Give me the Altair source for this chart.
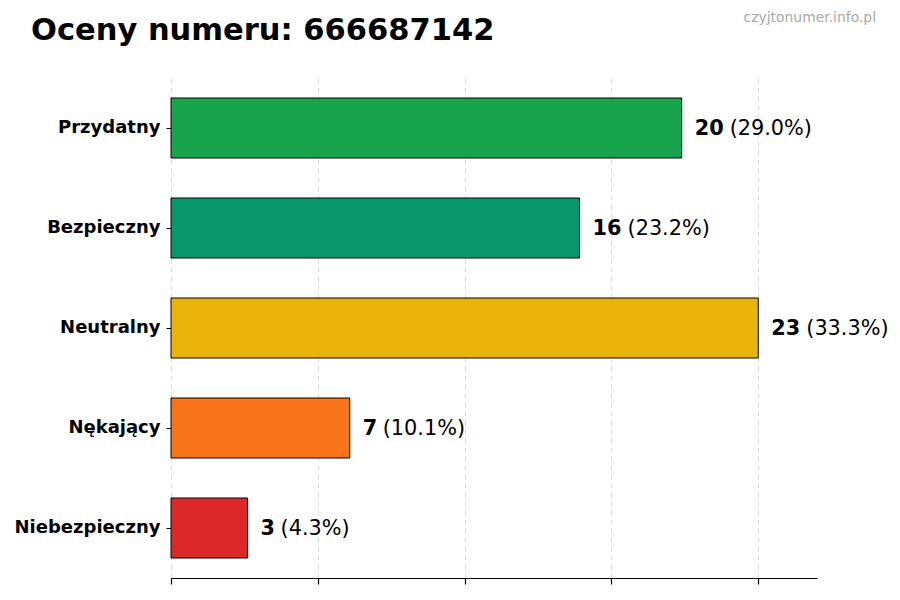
import altair as alt
import pandas as pd

categories = ["Przydatny", "Bezpieczny", "Neutralny", "Nękający", "Niebezpieczny"]
counts = [20, 16, 23, 7, 3]
percents = ["29.0%", "23.2%", "33.3%", "10.1%", "4.3%"]
colors = ["#16a34a", "#059669", "#eab308", "#f97316", "#dc2626"]
x_ticks = [0, 5.75, 11.5, 17.25, 23]
title_text = "Oceny numeru: 666687142"
watermark = "czyjtonumer.info.pl"

df = pd.DataFrame({"cat": categories, "count": counts, "pct": percents})
FONT = "DejaVu Sans"
X_MAX = 25.3
WIDTH = 646
PX_PER_UNIT = WIDTH / X_MAX

y_enc = alt.Y("cat:N", sort=categories,
              scale=alt.Scale(paddingInner=0.4, paddingOuter=0.2),
              axis=alt.Axis(title=None, domain=False, labelFont=FONT, labelFontSize=18,
                            labelFontWeight="bold", labelColor="black", tickColor="black",
                            tickSize=5, labelPadding=6, grid=False))
x_scale = alt.Scale(domain=[0, X_MAX], nice=False, zero=True)

base = alt.Chart(df)

bars = base.mark_bar(stroke="black", strokeWidth=1, opacity=0.99).encode(
    x=alt.X("count:Q", scale=x_scale,
            axis=alt.Axis(title=None, values=x_ticks, labels=False, domainColor="black",
                          domainWidth=1.2, tickColor="black", tickSize=6, tickWidth=1.2,
                          grid=True, gridDash=[5, 4], gridColor="#d0d0d0", gridWidth=0.8)),
    y=y_enc,
    color=alt.Color("cat:N", scale=alt.Scale(domain=categories, range=colors), legend=None),
)

count_text = base.mark_text(align="left", baseline="middle", dx=13, dy=1, font=FONT,
                            fontSize=20.8, fontWeight="bold", color="black").encode(
    x=alt.X("count:Q", scale=x_scale), y=alt.Y("cat:N", sort=categories),
    text="count:Q")

pct_text = base.transform_calculate(
    label="'(' + datum.pct + ')'",
    xpos=f"datum.count + (18 + 15 * length(toString(datum.count))) / {PX_PER_UNIT}"
).mark_text(align="left", baseline="middle", dy=1, font=FONT, fontSize=20.8,
            color="black").encode(
    x=alt.X("xpos:Q", scale=x_scale), y=alt.Y("cat:N", sort=categories),
    text="label:N")

wm = alt.Chart(pd.DataFrame({"t": [watermark]})).mark_text(
    align="right", baseline="middle", font=FONT, fontSize=13.9, color="#a8a8a8").encode(
    x=alt.value(705), y=alt.value(-60), text="t:N")

title = alt.Chart(pd.DataFrame({"t": [title_text]})).mark_text(
    align="left", baseline="alphabetic", font=FONT, fontSize=30.5, fontWeight="bold",
    color="black").encode(
    x=alt.value(-140), y=alt.value(-38), text="t:N")

chart = alt.layer(bars, count_text, pct_text, wm, title).properties(
    width=WIDTH, height=500,
    autosize=alt.AutoSizeParams(type="none"),
    padding={"left": 163, "top": 70, "right": 75, "bottom": 22},
).configure_view(stroke=None)

chart.save("out.html", embed_options={"renderer": "svg", "actions": False})
